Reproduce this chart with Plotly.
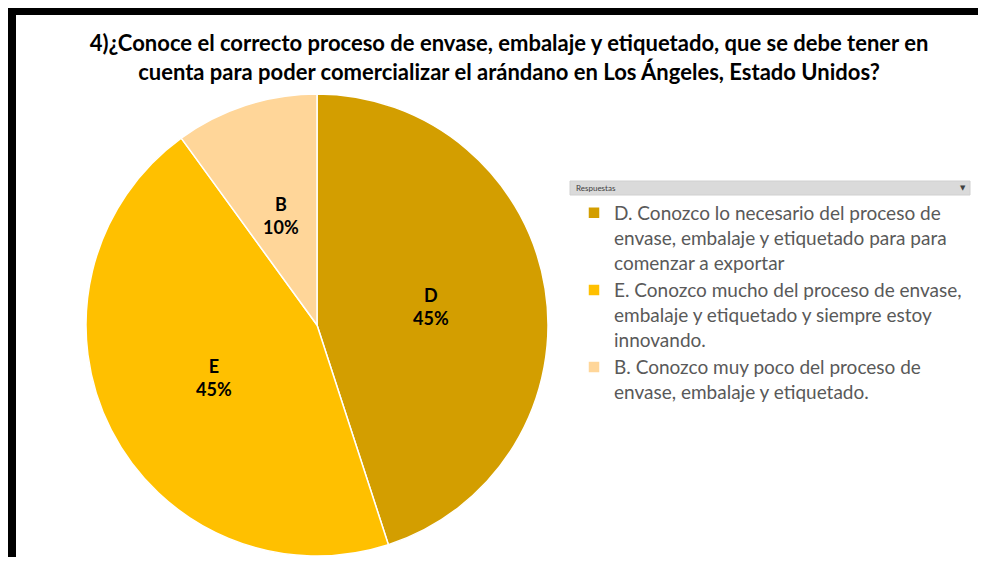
import math
import plotly.graph_objects as go

# Datos del gráfico
letras = ["D", "E", "B"]
porcentajes = [45, 45, 10]
respuestas = [
    "D. Conozco lo necesario del proceso de<br>envase, embalaje y etiquetado para para<br>comenzar a exportar",
    "E. Conozco mucho del proceso de envase,<br>embalaje y etiquetado y siempre estoy<br>innovando.",
    "B. Conozco muy poco del proceso de<br>envase, embalaje y etiquetado.",
]
colores = ["#D39E00", "#FFC000", "#FFD699"]
titulo = ("4)¿Conoce el correcto proceso de envase, embalaje y etiquetado, que se debe tener en<br>"
          "cuenta para poder comercializar el arándano en Los Ángeles, Estado Unidos?")

# Tamaño pensado para que la página no tenga barras de desplazamiento (margen de 8 px del body)
W, H = 978, 549
OFF = 8


# Conversión de píxeles de la ventana a coordenadas "paper"
def px(x):
    return (x - OFF) / W


def py(y):
    return 1 - (y - OFF) / H


cx, cy, R = 317, 325, 231  # centro y radio de la tarta (píxeles)

fig = go.Figure()

fig.add_trace(go.Pie(
    labels=respuestas,
    values=porcentajes,
    sort=False,
    direction="clockwise",
    rotation=0,
    marker=dict(colors=colores, line=dict(color="white", width=1.5)),
    textinfo="none",
    domain=dict(x=[px(cx - R), px(cx + R)], y=[max(0, py(cy + R)), py(cy - R)]),
    hoverinfo="label+percent",
))

# Etiquetas de datos dentro de cada porción (a media distancia del centro)
annotations = []
total = sum(porcentajes)
acum = 0
for letra, valor in zip(letras, porcentajes):
    ang = 2 * math.pi * (acum + valor / 2) / total
    acum += valor
    lx = cx + 0.5 * R * math.sin(ang)
    ly = cy - 0.5 * R * math.cos(ang)
    annotations.append(dict(
        text=f"<b>{letra}<br>{round(100 * valor / total)}%</b>",
        x=px(lx), y=py(ly), xref="paper", yref="paper",
        xanchor="center", yanchor="middle", showarrow=False,
        font=dict(family="Lato", size=18, color="black"),
    ))

# Marco negro y cabecera de la leyenda
shapes = [
    dict(type="rect", x0=px(8), x1=1.01, y0=py(15), y1=1.01, fillcolor="black", line_width=0),
    dict(type="rect", x0=-0.01, x1=px(16), y0=-0.01, y1=1.01, fillcolor="black", line_width=0),
    dict(type="rect", x0=px(570), x1=px(970), y0=py(195), y1=py(181),
         fillcolor="#DADADA", line=dict(color="#D0D0D0", width=1)),
]

annotations += [
    dict(text="Respuestas", x=px(574), y=py(188), xref="paper", yref="paper",
         xanchor="left", yanchor="middle", showarrow=False,
         font=dict(family="Lato", size=8, color="#404040")),
    dict(text="▼", x=px(963), y=py(188), xref="paper", yref="paper",
         xanchor="center", yanchor="middle", showarrow=False,
         font=dict(family="DejaVu Sans", size=7, color="#404040")),
]

fig.update_layout(
    width=W,
    height=H,
    margin=dict(l=0, r=0, t=0, b=0),
    paper_bgcolor="white",
    plot_bgcolor="white",
    title=dict(text=f"<b>{titulo}</b>", x=px(509), xanchor="center", y=py(51), yanchor="middle",
               font=dict(family="Lato", size=22, color="black")),
    legend=dict(
        x=px(574), y=py(194), xanchor="left", yanchor="top",
        valign="top",
        font=dict(family="Lato", size=19, color="#595959"),
        bgcolor="rgba(0,0,0,0)",
        itemwidth=30,
    ),
    shapes=shapes,
    annotations=annotations,
)

fig.write_html("out.html")
